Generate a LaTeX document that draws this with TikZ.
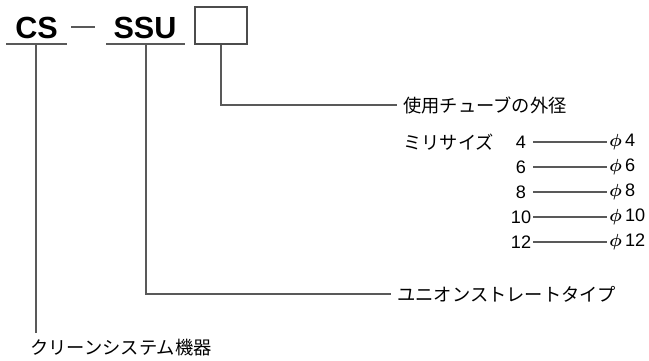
\documentclass[tikz,border=0pt]{standalone}
\usepackage{amsmath}
\usepackage{fontspec}
\setmainfont{Liberation Sans}
\newfontfamily\jpfont{Noto Sans CJK JP}
\tikzset{
  lead/.style={draw=black!65, line width=0.6pt},
  code/.style={font=\fontsize{17.4}{20}\selectfont\bfseries, inner sep=0pt, anchor=base},
  jlabel/.style={font=\fontsize{10.4}{12}\selectfont\jpfont, anchor=west, inner xsep=3.4pt, inner ysep=0pt},
  num/.style={font=\fontsize{10.3}{12}\selectfont, inner sep=0pt}
}
\begin{document}
\begin{tikzpicture}[x=0.02cm,y=-0.02cm]
  \useasboundingbox (0,0) rectangle (649,360);
  % model code
  \node[code] (cs) at (36.5,38) {CS};
  \node[code] (ssu) at (145,38) {SSU};
  \node[draw=black!70, line width=0.6pt, minimum width=1.04cm, minimum height=0.74cm, inner sep=0pt] (box) at (221,25.5) {};
  \draw[lead] (71,27) -- (95,27);
  \draw[lead] (6,44) -- (67,44);
  \draw[lead] (106,44) -- (185,44);
  \coordinate (csu) at (36,44);
  \coordinate (ssuu) at (146,44);
  % labels
  \node[jlabel] (tube) at (397,105) {使用チューブの外径};
  \node[jlabel] (mm) at (397,142) {ミリサイズ};
  \node[jlabel] (union) at (391,294) {ユニオンストレートタイプ};
  \node[jlabel, anchor=north west, inner xsep=0pt] (clean) at (30,339) {クリーンシステム機器};
  \coordinate (cse) at (36,333);
  % leaders
  \draw[lead] (csu) -- (cse);
  \draw[lead] (ssuu) |- (union.west);
  \draw[lead] (box.south) |- (tube.west);
  % tube sizes
  \foreach \n [count=\i from 0] in {4,6,8,10,12} {
    \node[num] (n\n) at (521,142+25*\i) {\n};
    \coordinate (a\n) at (533,142+25*\i);
    \node[num, anchor=west, inner xsep=1.2pt] (p\n) at (607,142+25*\i) {$\boldsymbol{\phi}$\,\n};
    \draw[lead] (a\n) -- (p\n.west);
  }
\end{tikzpicture}
\end{document}
